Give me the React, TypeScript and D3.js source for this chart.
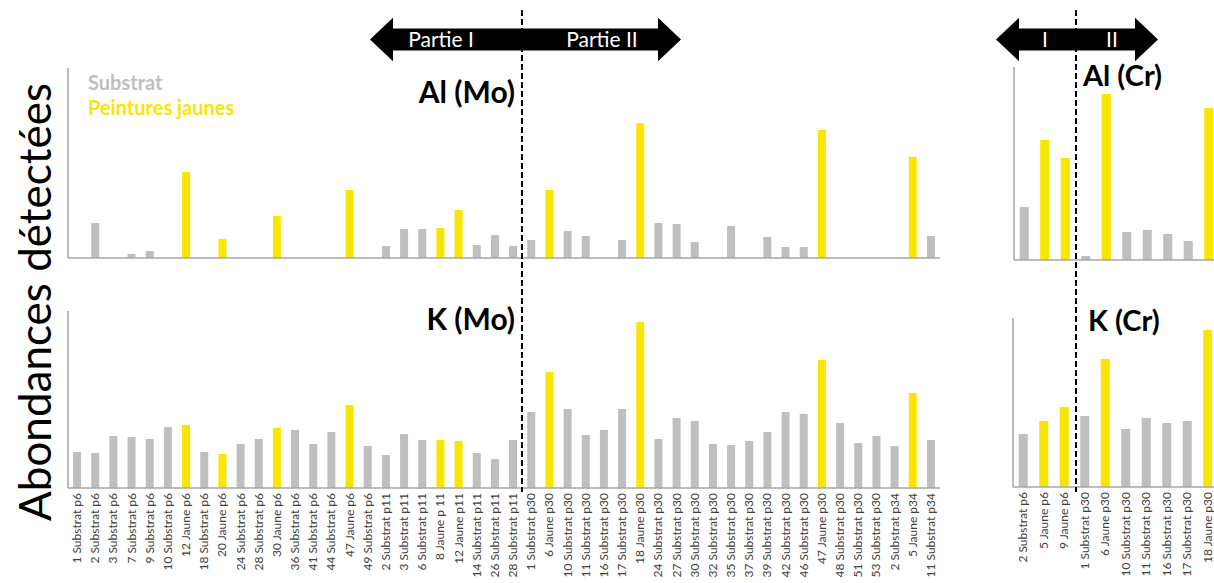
import React from "react";
import * as d3 from "d3";

const catsMo = [
  "1 Substrat p6", "2 Substrat p6", "3 Substrat p6", "7 Substrat p6", "9 Substrat p6", "10 Substrat p6",
  "12 Jaune p6", "18 Substrat p6", "20 Jaune p6", "24 Substrat p6", "28 Substrat p6", "30 Jaune p6",
  "36 Substrat p6", "41 Substrat p6", "44 Substrat p6", "47 Jaune p6", "49 Substrat p6",
  "2 Substrat p11", "3 Substrat p11", "6 Substrat p11", "8 Jaune p 11", "12 Jaune p11",
  "14 Substrat p11", "26 Substrat p11", "28 Substrat p11",
  "1 Substrat p30", "6 Jaune p30", "10 Substrat p30", "11 Substrat p30", "16 Substrat p30",
  "17 Substrat p30", "18 Jaune p30", "24 Substrat p30", "27 Substrat p30", "30 Substrat p30",
  "32 Substrat p30", "35 Substrat p30", "37 Substrat p30", "39 Substrat p30", "42 Substrat p30",
  "46 Substrat p30", "47 Jaune p30", "48 Substrat p30", "51 Substrat p30", "53 Substrat p30",
  "2 Substrat p34", "5 Jaune p34", "11 Substrat p34",
];
const alMo = [0, 35, 0, 4, 7, 0, 86, 0, 19, 0, 0, 42, 0, 0, 0, 68, 0, 12, 29, 29, 30, 48, 13, 23, 12,
  18, 68, 27, 22, 0, 18, 135, 35, 34, 16, 0, 32, 0, 21, 11, 11, 128, 0, 0, 0, 0, 101, 22];
const kMo = [36, 35, 52, 51, 49, 61, 63, 36, 34, 44, 49, 60, 58, 44, 56, 83, 42, 33, 54, 48, 48, 47, 35, 29, 48,
  76, 116, 79, 53, 58, 79, 166, 49, 70, 67, 44, 43, 47, 56, 76, 74, 128, 65, 45, 52, 42, 95, 48];

const catsCr = ["2 Substrat p6", "5 Jaune p6", "9 Jaune p6", "1 Substrat p30", "6 Jaune p30",
  "10 Substrat p30", "11 Substrat p30", "16 Substrat p30", "17 Substrat p30", "18 Jaune p30"];
const alCr = [53, 120, 102, 4, 166, 28, 30, 26, 19, 152];
const kCr = [53, 66, 80, 71, 128, 58, 69, 64, 66, 157];

const legendLabels = ["Substrat", "Peintures jaunes"];
const partLabels = ["Partie I", "Partie II"];
const partLabelsShort = ["I", "II"];
const yTitle = "Abondances détectées";

const GRAY = "#BFBFBF";
const YELLOW = "#F8E600";
const AXIS = "#A6A6A6";
const FONT = "Lato, 'Open Sans', sans-serif";

type PanelProps = {
  cats: string[];
  values: number[];
  x0: number;
  x1: number;
  yTop: number;
  yBase: number;
  axisEnd: number;
  showLabels: boolean;
};

function Panel({ cats, values, x0, x1, yTop, yBase, axisEnd, showLabels }: PanelProps) {
  const x = d3.scaleBand<string>().domain(cats).range([x0, x1]).paddingInner(0.56).paddingOuter(0.28);
  const y = d3.scaleLinear().domain([0, yBase - yTop]).range([yBase, yTop]);
  return (
    <g>
      {cats.map((c, i) => (
        <rect
          key={c + i}
          x={x(c)}
          y={y(values[i])}
          width={x.bandwidth()}
          height={yBase - y(values[i])}
          fill={c.includes("Jaune") ? YELLOW : GRAY}
        />
      ))}
      <line x1={x0} x2={x0} y1={yTop} y2={yBase} stroke={AXIS} strokeWidth={1.5} />
      <line x1={x0} x2={axisEnd} y1={yBase} y2={yBase} stroke={AXIS} strokeWidth={1.5} />
      {showLabels &&
        cats.map((c) => {
          const cx = (x(c) as number) + x.bandwidth() / 2;
          return (
            <text
              key={"l" + c}
              transform={`translate(${cx + 4},${yBase + 5}) rotate(-90)`}
              textAnchor="end"
              fontSize={12}
              fontFamily={FONT}
              fill="#404040"
            >
              {c}
            </text>
          );
        })}
    </g>
  );
}

function DoubleArrow({ xl, xr, cy, labels, labelX }: { xl: number; xr: number; cy: number; labels: string[]; labelX: number[] }) {
  const head = 23;
  const hh = 21.7;
  const bh = 11;
  const pts = [
    [xl, cy],
    [xl + head, cy - hh],
    [xl + head, cy - bh],
    [xr - head, cy - bh],
    [xr - head, cy - hh],
    [xr, cy],
    [xr - head, cy + hh],
    [xr - head, cy + bh],
    [xl + head, cy + bh],
    [xl + head, cy + hh],
  ];
  const path = d3.line()(pts as [number, number][]) + "Z";
  return (
    <g>
      <path d={path} fill="#000" />
      {labels.map((l, i) => (
        <text key={l} x={labelX[i]} y={cy + 7} textAnchor="middle" fontSize={21} fontFamily={FONT} fill="#fff">
          {l}
        </text>
      ))}
    </g>
  );
}

export default function App() {
  return (
    <svg width={1214} height={583} style={{ position: "absolute", left: 0, top: 0, background: "#fff" }}>
      <rect width={1214} height={583} fill="#fff" />
      <Panel cats={catsMo} values={alMo} x0={68} x1={940} yTop={68} yBase={258} axisEnd={940} showLabels={false} />
      <Panel cats={catsMo} values={kMo} x0={68} x1={940} yTop={311} yBase={488} axisEnd={940} showLabels={true} />
      <Panel cats={catsCr} values={alCr} x0={1014} x1={1219} yTop={67} yBase={260} axisEnd={1214} showLabels={false} />
      <Panel cats={catsCr} values={kCr} x0={1013} x1={1218} yTop={318} yBase={487} axisEnd={1214} showLabels={true} />

      <DoubleArrow xl={370} xr={681} cy={39.5} labels={partLabels} labelX={[441, 602]} />
      <DoubleArrow xl={996} xr={1158} cy={39.5} labels={partLabelsShort} labelX={[1045, 1112]} />

      <line x1={522} x2={522} y1={10} y2={492} stroke="#000" strokeWidth={2} strokeDasharray="6,3" />
      <line x1={1076} x2={1076} y1={10} y2={492} stroke="#000" strokeWidth={2} strokeDasharray="6,3" />

      <text x={515} y={103} textAnchor="end" fontSize={30} fontWeight="bold" fontFamily={FONT} fill="#000">Al (Mo)</text>
      <text x={515} y={330} textAnchor="end" fontSize={30} fontWeight="bold" fontFamily={FONT} fill="#000">K (Mo)</text>
      <text x={1083} y={86} fontSize={29} fontWeight="bold" fontFamily={FONT} fill="#000">Al (Cr)</text>
      <text x={1088} y={331} fontSize={29} fontWeight="bold" fontFamily={FONT} fill="#000">K (Cr)</text>

      <text x={88} y={90} fontSize={20} fontWeight="bold" fontFamily={FONT} fill={GRAY}>{legendLabels[0]}</text>
      <text x={88} y={115} fontSize={20} fontWeight="bold" fontFamily={FONT} fill={YELLOW}>{legendLabels[1]}</text>

      <text transform="translate(51,302) rotate(-90)" textAnchor="middle" fontSize={44} fontFamily={FONT} fill="#000">
        {yTitle}
      </text>
    </svg>
  );
}
